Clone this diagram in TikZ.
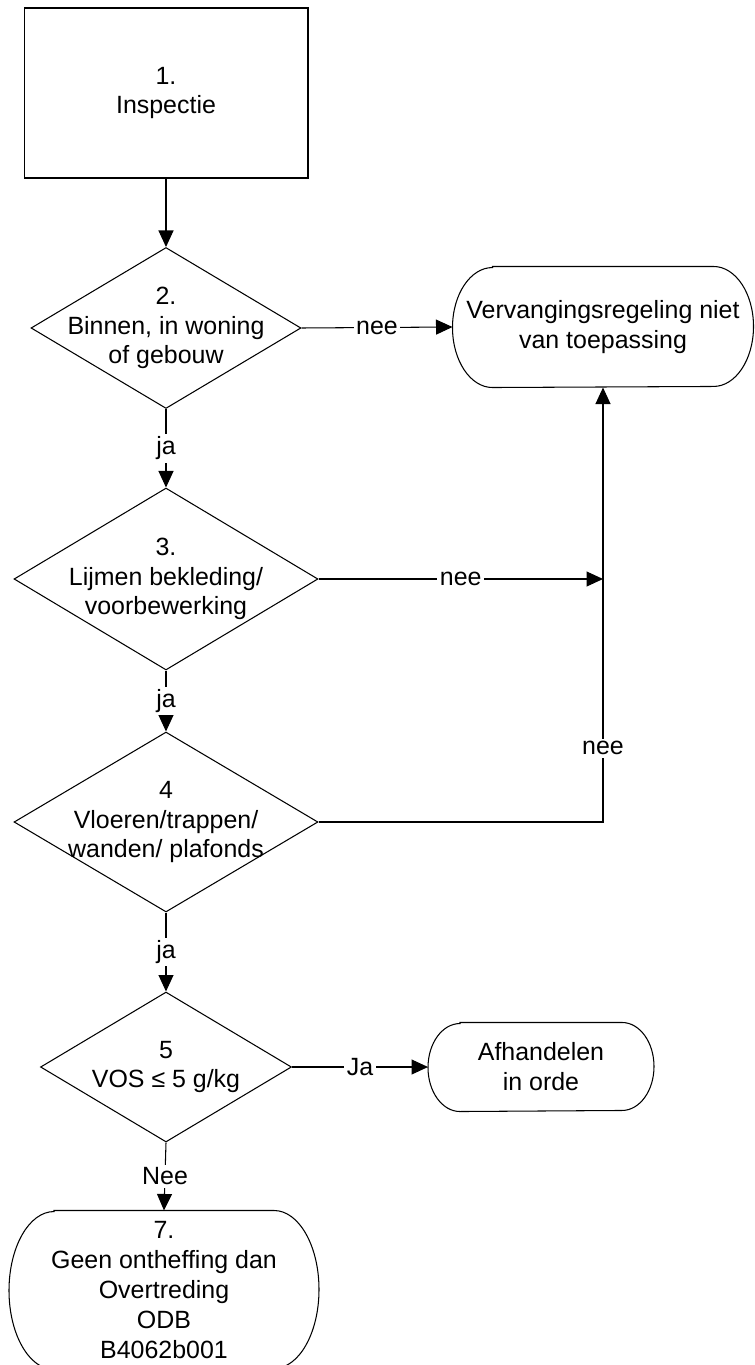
\documentclass[tikz,border=0pt]{standalone}
\usepackage{fontspec}
\setmainfont{Liberation Sans}
\usepackage{tikz}
\usetikzlibrary{shapes.geometric,arrows.meta}

\newcommand\termline[3]{%
  \draw ([xshift=#2]#1.north west) -- ([xshift=-#2]#1.north east)
    arc[start angle=90, end angle=-90, x radius=#2, y radius=#3]
    -- ([xshift=#2]#1.south west)
    arc[start angle=270, end angle=90, x radius=#2, y radius=#3] -- cycle;}

\begin{document}
\begin{tikzpicture}[x=0.02cm, y=-0.02cm, line width=0.6pt,
  font=\fontsize{14.2}{17}\selectfont,
  every node/.style={align=center},
  box/.style={draw, rectangle, minimum width=5.68cm, minimum height=3.4cm},
  decision/.style={draw, diamond, inner sep=0pt},
  terminal/.style={rectangle, inner sep=0pt},
  lbl/.style={fill=white, inner sep=1.5pt},
  arr/.style={-{Triangle[length=0.33cm,width=0.3cm]}}]

\clip (0,0) rectangle (754,1365);

\node[box] (n1) at (166,93) {1.\\Inspectie};
\node[decision, minimum width=5.4cm, minimum height=3.22cm,
  label={[align=center]center:{2.\\Binnen, in woning\\of gebouw}}] (d2) at (166,328) {};
\node[decision, minimum width=6.08cm, minimum height=3.64cm,
  label={[align=center]center:{3.\\Lijmen bekleding/\\voorbewerking}}] (d3) at (166,579) {};
\node[decision, minimum width=6.08cm, minimum height=3.6cm,
  label={[align=center]center:{4\\Vloeren/trappen/\\wanden/ plafonds}}] (d4) at (166,822) {};
\node[decision, minimum width=5.02cm, minimum height=3.0cm,
  label={[align=center]center:{5\\VOS ≤ 5 g/kg}}] (d5) at (166,1067) {};

\node[terminal, minimum width=6cm, minimum height=2.4cm] (t1) at (603,327)
  {Vervangingsregeling niet\\van toepassing};
\node[terminal, minimum width=4.5cm, minimum height=1.76cm] (tA) at (541,1067)
  {Afhandelen\\in orde};
\node[terminal, minimum width=6.18cm, minimum height=3.16cm] (t7) at (164,1290)
  {7.\\Geen ontheffing dan\\Overtreding\\ODB\\B4062b001};
\termline{t1}{0.8cm}{1.2cm}
\termline{tA}{0.64cm}{0.88cm}
\termline{t7}{0.9cm}{1.58cm}

\coordinate (j3) at (d3.east -| t1.south);
\coordinate (j4) at (d4.east -| t1.south);

\draw[arr] (n1.south) -- (d2.north);
\draw[arr] (d2.east) -- node[lbl] {nee} (t1.west);
\draw[arr] (d2.south) -- node[lbl] {ja} (d3.north);
\draw[arr] (d3.east) -- node[lbl] {nee} (j3);
\draw[arr] (d3.south) -- node[lbl] {ja} (d4.north);
\draw[arr] (d4.east) -- (j4) -- node[lbl, pos=0.17] {nee} (t1.south);
\draw[arr] (d4.south) -- node[lbl] {ja} (d5.north);
\draw[arr] (d5.east) -- node[lbl] {Ja} (tA.west);
\draw[arr] (d5.south) -- node[lbl] {Nee} (t7.north);

\end{tikzpicture}
\end{document}
